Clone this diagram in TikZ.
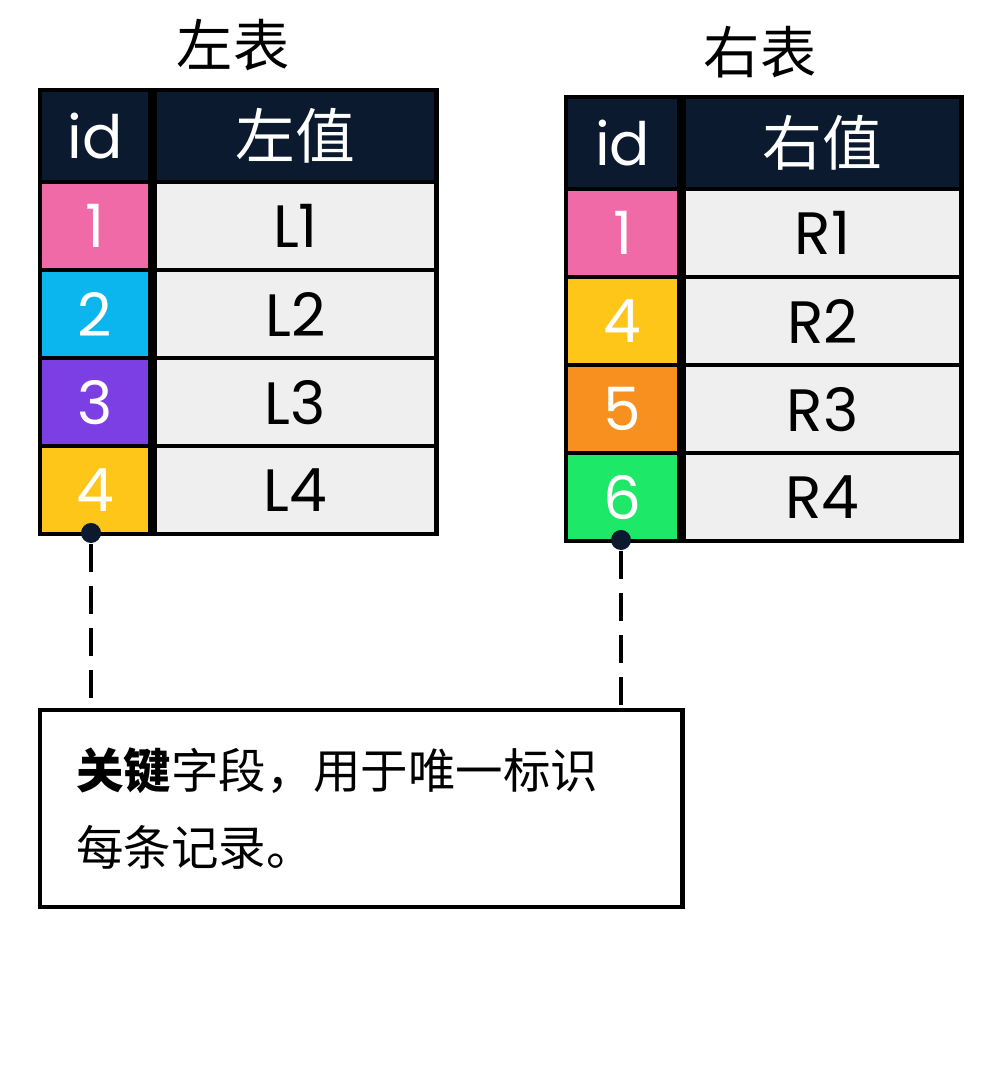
\documentclass[tikz,border=0pt]{standalone}
\usepackage{fontspec}
\setmainfont{Poppins}
\newfontfamily\cjk{Noto Sans CJK SC}
\usetikzlibrary{positioning}
\definecolor{headbg}{HTML}{0B1A2E}
\definecolor{cellbg}{HTML}{EFEFEF}
\definecolor{kpink}{HTML}{F06AA8}
\definecolor{kcyan}{HTML}{0BB5EE}
\definecolor{kpurple}{HTML}{7B3FE4}
\definecolor{kyellow}{HTML}{FFC61A}
\definecolor{korange}{HTML}{F7901E}
\definecolor{kgreen}{HTML}{1EE868}
\tikzset{
	cell/.style = {draw=black, line width=1.2pt, inner sep=0pt, minimum height=0.88cm, font=\fontsize{17}{20}\selectfont},
	idcell/.style = {cell, text=white, minimum width=1.10cm},
	valcell/.style = {cell, fill=cellbg, minimum width=2.82cm},
	head/.style = {cell, fill=headbg, text=white, minimum height=0.92cm},
	title/.style = {font=\cjk\fontsize{16}{20}\selectfont},
	keydot/.style = {circle, fill=headbg, inner sep=0pt, minimum size=0.2cm},
	link/.style = {line width=1.2pt, dash pattern=on 0.28cm off 0.14cm}
}
\begin{document}
\begin{tikzpicture}[x=0.01cm, y=-0.01cm]
	\useasboundingbox (0,0) rectangle (992,1077);
	% left table
	\node [title] (ltitle) at (233,45) {左表};
	\node [head, minimum width=1.10cm, anchor=north west] (lh1) at (38,88) {id};
	\node [head, minimum width=2.82cm, anchor=west] (lh2) at (lh1.east) {\cjk 左值};
	\foreach \n/\c [count=\i] in {1/kpink, 2/kcyan, 3/kpurple, 4/kyellow}{
		\node [idcell, fill=\c, anchor=north west] (lid\i) at (38,{180+88*(\i-1)}) {\n};
		\node [valcell, anchor=west] (lv\i) at (lid\i.east) {L\n};
	}
	% right table
	\node [title] (rtitle) at (760,52) {右表};
	\node [head, minimum width=1.13cm, anchor=north west] (rh1) at (564,95) {id};
	\node [head, minimum width=2.78cm, anchor=west] (rh2) at (rh1.east) {\cjk 右值};
	\foreach \n/\c [count=\i] in {1/kpink, 4/kyellow, 5/korange, 6/kgreen}{
		\node [idcell, fill=\c, minimum width=1.13cm, anchor=north west] (rid\i) at (564,{187+88*(\i-1)}) {\n};
		\node [valcell, minimum width=2.78cm, anchor=west] (rv\i) at (rid\i.east) {R\i};
	}
	% note box
	\node [draw=black, line width=1.2pt, minimum width=6.42cm, minimum height=1.97cm, anchor=north west,
		align=left, text width=5.7cm, font=\cjk\fontsize{13.5}{22}\selectfont] (note) at (38,708)
		{\textbf{关键}字段，用于唯一标识\\每条记录。};
	\node [keydot] (ldot) at (91,533) {};
	\node [keydot] (rdot) at (621,540) {};
	\draw [link] (ldot) -- (ldot |- note.north);
	\draw [link] (rdot) -- (rdot |- note.north);
\end{tikzpicture}
\end{document}
